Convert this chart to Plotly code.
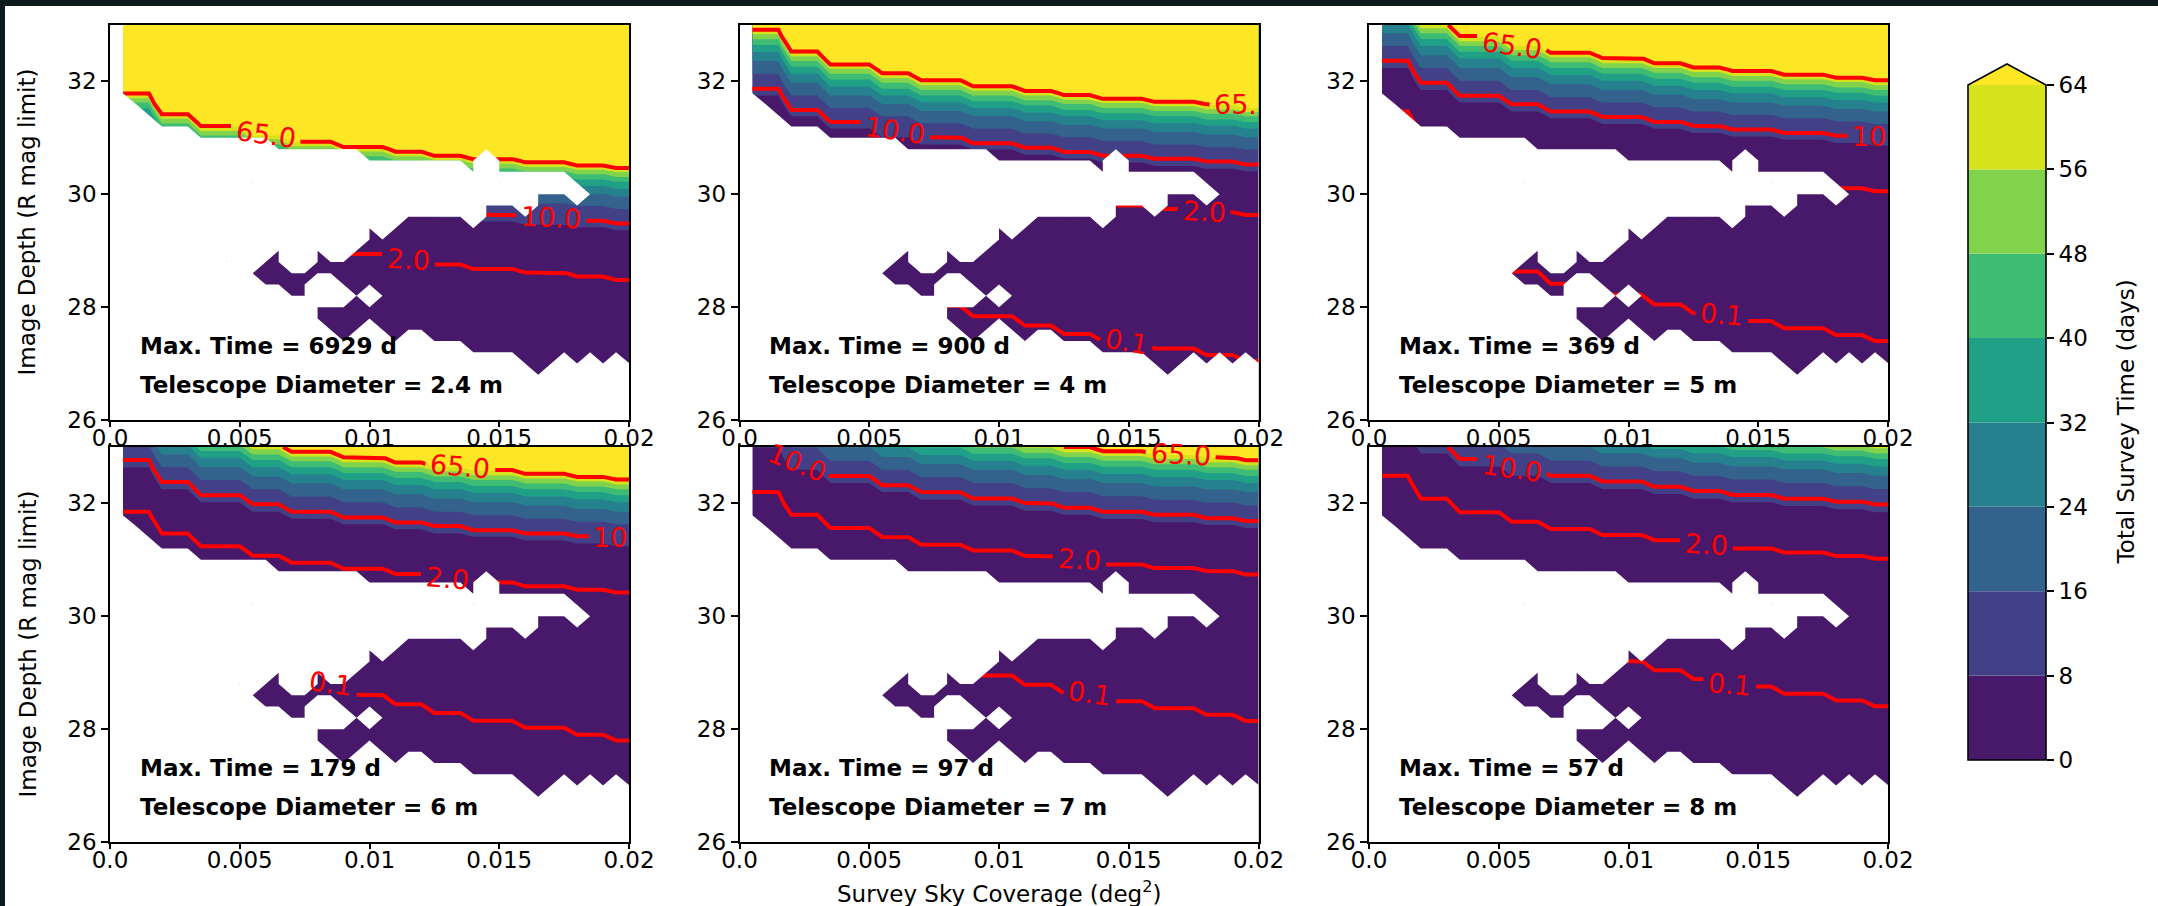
import numpy as np
import plotly.graph_objects as go

# ---------------- data ----------------
coverage_deg2 = [0.0005, 0.0010, 0.0015, 0.0020, 0.0025, 0.0030, 0.0035, 0.0040,
                 0.0045, 0.0050, 0.0055, 0.0060, 0.0065, 0.0070, 0.0075, 0.0080,
                 0.0085, 0.0090, 0.0095, 0.0100, 0.0105, 0.0110, 0.0115, 0.0120,
                 0.0125, 0.0130, 0.0135, 0.0140, 0.0145, 0.0150, 0.0155, 0.0160,
                 0.0165, 0.0170, 0.0175, 0.0180, 0.0185, 0.0190, 0.0195, 0.0200]
# number of telescope pointings needed for each coverage column
pointings = [1, 1, 1, 2, 2, 2, 3, 3, 3, 3, 4, 4, 4, 5, 5, 5, 5, 6, 6, 6,
             6, 7, 7, 7, 8, 8, 8, 9, 9, 9, 9, 10, 10, 10, 10, 11, 11, 11, 12, 12]
depth_mag = [26.0, 26.2, 26.4, 26.6, 26.8, 27.0, 27.2, 27.4, 27.6, 27.8, 28.0, 28.2,
             28.4, 28.6, 28.8, 29.0, 29.2, 29.4, 29.6, 29.8, 30.0, 30.2, 30.4, 30.6,
             30.8, 31.0, 31.2, 31.4, 31.6, 31.8, 32.0, 32.2, 32.4, 32.6, 32.8, 33.0]
# time per pointing (days, 2.4 m reference): background-limited and source-limited parts
bkg_time_days = [0.000741, 0.001095, 0.001620, 0.002396, 0.003544, 0.005243, 0.007754,
                 0.01147, 0.01696, 0.02509, 0.03711, 0.05489, 0.08120, 0.1201, 0.1776,
                 0.2627, 0.3886, 0.5748, 0.8618, 1.299, 1.956, 2.948, 4.442, 6.564,
                 9.636, 14.15, 20.77, 30.50, 44.78, 65.57, 94.08, 135.0, 193.7, 277.9,
                 398.8, 572.2]
src_time_days = [0.01255, 0.01441, 0.01655, 0.01900, 0.02181, 0.02505, 0.02876, 0.03302,
                 0.03791, 0.04353, 0.04998, 0.05739, 0.06589, 0.07566, 0.08687, 0.09974,
                 0.1145, 0.1315, 0.1510, 0.1734, 0.1991, 0.2286, 0.2625, 0.3014, 0.3460,
                 0.3973, 0.4562, 0.5238, 0.6014, 0.6905, 0.7929, 0.9104, 1.045, 1.200,
                 1.378, 1.582]
diameters_m = ["2.4", "4", "5", "6", "7", "8"]
max_time_days = [6929, 900, 369, 179, 97, 57]
bkg_scale = [1.0, 0.1296, 0.0531, 0.0256, 0.01383, 0.0081]
src_scale = [1.0, 0.293, 0.234, 0.177, 0.138, 0.116]

# valid (#) / blank (.) grid points, top row = 33.0 mag, bottom row = 26.0 mag
valid_rows = [
    "#" * 40, "#" * 40, "#" * 40, "#" * 40, "#" * 40, "#" * 40, "#" * 40,
    "." * 1 + "#" * 39,
    "." * 2 + "#" * 38,
    "." * 3 + "#" * 37,
    "." * 6 + "#" * 34,
    "." * 12 + "#" * 28,
    "." * 19 + "#" * 9 + "." + "#" * 11,
    "." * 27 + "#" + "." + "#" * 11,
    "." * 35 + "#" * 5,
    "." * 32 + "#" * 3 + "." + "#" * 4,
    "." * 28 + "#" * 3 + "." + "#" * 8,
    "." * 19 + "#" + ".." + "#" * 5 + "." + "#" * 12,
    "." * 17 + "#" + "." + "#" + "." + "#" * 19,
    "." * 16 + "#" + ".." + "#" * 21,
    "." * 12 + "#" + ".." + "#" + ".." + "#" * 22,
    "." * 11 + "##" + ".." + "#" * 25,
    "." * 10 + "#" * 30,
    "." * 11 + "#" * 4 + ".." + "#" * 23,
    "." * 13 + "##" + "..." + "#" + "." + "#" * 20,
    "." * 15 + "#" * 25,
    "." * 15 + "#" * 25,
    "." * 16 + "###" + "." + "#" * 20,
    "." * 17 + "#" + "..." + "#" + ".." + "#" * 16,
    "." * 21 + "#" + "." * 5 + "#" * 13,
    "." * 31 + "###" + "." + "#" + "." + "#" + "." + "#",
    "." * 32 + "#" + "." * 7,
    "." * 40, "." * 40, "." * 40, "." * 40,
]

line_levels = [0.1, 2.0, 10.0, 65.0]
fill_start, fill_end, fill_step = 0, 64, 8
cbar_ticks = [0, 8, 16, 24, 32, 40, 48, 56, 64]
band_colors = ['#48186a', '#424086', '#33638d', '#26818e', '#20a086',
               '#3fbc73', '#82d34c', '#d5e21c']
over_color = '#fde725'

# contour labels: (panel, level, text, x position, rotation); x=None -> clipped at right edge
contour_labels = [
    (0, 65.0, "65.0", 0.0060, 8), (0, 10.0, "10.0", 0.0170, 3), (0, 2.0, "2.0", 0.0115, 3),
    (1, 65.0, "65.", None, 0), (1, 10.0, "10.0", 0.0060, 8), (1, 2.0, "2.0", 0.0179, 3),
    (1, 0.1, "0.1", 0.0149, 10),
    (2, 65.0, "65.0", 0.0055, 8), (2, 10.0, "10", None, 0), (2, 0.1, "0.1", 0.0136, 5),
    (3, 65.0, "65.0", 0.0135, 5), (3, 10.0, "10", None, 0), (3, 2.0, "2.0", 0.0130, 5),
    (3, 0.1, "0.1", 0.0085, 8),
    (4, 10.0, "10.0", 0.0022, 22), (4, 65.0, "65.0", 0.0170, 3), (4, 2.0, "2.0", 0.0131, 3),
    (4, 0.1, "0.1", 0.0135, 8),
    (5, 10.0, "10.0", 0.0055, 8), (5, 2.0, "2.0", 0.0130, 3), (5, 0.1, "0.1", 0.0139, 5),
]

# ---------------- geometry ----------------
W, H = 2158, 906
col_left = [110, 739.5, 1369]
plot_w = 519
row_top = [25, 447]
plot_h = 395
FONT = "DejaVu Sans"
FS = 23
LABEL_SIZE = 27
DX_PER_PX = 0.02 / plot_w

xs = np.array(coverage_deg2)
ys = np.array(depth_mag)
Npt = np.array(pointings, dtype=float)
Bt = np.array(bkg_time_days)
St = np.array(src_time_days)
valid = np.array([[ch == '#' for ch in row] for row in valid_rows[::-1]])  # bottom -> top

# stepped colour scale matching plotly's contour fill colour lookup
cols = [band_colors[0]] + band_colors + [over_color]
nlev = len(cols) - 1
fill_cs = []
for i, c in enumerate(cols):
    lo = max(0.0, (i - 0.5) / nlev)
    hi = min(1.0, (i + 0.5) / nlev)
    fill_cs.append([lo, c])
    fill_cs.append([hi, c])


def text_width_px(txt, size):
    w = 0.0
    for ch in txt:
        w += 0.318 if ch == '.' else 0.636
    return w * size


def crossing_y(col, level):
    for jj in range(len(col) - 1):
        if col[jj] <= level < col[jj + 1]:
            return ys[jj] + (level - col[jj]) / (col[jj + 1] - col[jj]) * (ys[jj + 1] - ys[jj])
    return None


def contour_path(Z, level):
    """Marching-squares iso-line of a field that increases along both grid axes."""
    pts = []
    for k in range(len(xs)):
        yk = crossing_y(Z[:, k], level)
        if yk is not None:
            pts.append((float(xs[k]), float(yk), 0))
    for r in range(len(ys)):
        row = Z[r, :]
        for k in range(len(xs) - 1):
            if row[k] < level < row[k + 1]:
                xx = xs[k] + (level - row[k]) / (row[k + 1] - row[k]) * (xs[k + 1] - xs[k])
                pts.append((float(xx), float(ys[r]), 0))
    pts.sort(key=lambda t: (t[0], -t[1]))
    return pts


def apply_gaps(pts, gaps):
    if not pts:
        return [], []
    px = [p[0] for p in pts]
    py = [p[1] for p in pts]
    allp = list(pts)
    for (a, b) in gaps:
        if px[0] < a < px[-1]:
            allp.append((a, float(np.interp(a, px, py)), 1))
        if px[0] < b < px[-1]:
            allp.append((b, float(np.interp(b, px, py)), 2))
    allp.sort(key=lambda t: (t[0], -t[1], t[2]))
    ox, oy = [], []
    for (x, y, t) in allp:
        if t == 0 and any(a < x < b for (a, b) in gaps):
            continue
        ox.append(x)
        oy.append(y)
        if t == 1:
            ox.append(None)
            oy.append(None)
    return ox, oy


# white mask polygons (corner masking); vertices on the grid border are pushed
# slightly outward so no anti-aliased seam of the fill remains visible
EPSX = 0.00003
EPSY = 0.01


def vx(i):
    if i == 0:
        return float(xs[0] - EPSX)
    if i == len(xs) - 1:
        return float(xs[-1] + EPSX)
    return float(xs[i])


def vy(j):
    if j == 0:
        return float(ys[0] - EPSY)
    if j == len(ys) - 1:
        return float(ys[-1] + EPSY)
    return float(ys[j])


mx, my = [], []
for jj in range(len(ys) - 1):
    for i in range(len(xs) - 1):
        c = [(i, jj), (i + 1, jj), (i + 1, jj + 1), (i, jj + 1)]
        m = [not valid[b][a] for (a, b) in c]
        cnt = sum(m)
        if cnt == 0:
            continue
        if cnt >= 2:
            poly = c
        else:
            k = m.index(True)
            poly = [c[k], c[(k + 1) % 4], c[(k + 3) % 4]]
        for (a, b) in poly + [poly[0]]:
            mx.append(vx(a))
            my.append(vy(b))
        mx.append(None)
        my.append(None)

fig = go.Figure()
annotations = []
shapes = []
layout = dict(width=W, height=H, margin=dict(l=0, r=0, t=0, b=0, pad=0, autoexpand=False),
              paper_bgcolor='white', plot_bgcolor='white', showlegend=False,
              font=dict(family=FONT, size=FS, color='black'))

for p in range(6):
    r, c = divmod(p, 3)
    sfx = '' if p == 0 else str(p + 1)
    xa, ya = 'x' + sfx, 'y' + sfx
    x0 = col_left[c] / W
    x1 = (col_left[c] + plot_w) / W
    y1 = 1 - row_top[r] / H
    y0 = 1 - (row_top[r] + plot_h) / H
    axis_common = dict(ticks='outside', tickwidth=1.6, tickcolor='black',
                       showline=True, linecolor='black', linewidth=1.6, mirror=True,
                       showgrid=False, zeroline=False, automargin=False,
                       tickfont=dict(family=FONT, size=FS))
    layout['xaxis' + sfx] = dict(domain=[x0, x1], range=[0, 0.02], anchor=ya,
                                 tickvals=[0, 0.005, 0.01, 0.015, 0.02],
                                 ticktext=['0.0', '0.005', '0.01', '0.015', '0.02'],
                                 ticklen=5, ticklabelstandoff=-8, **axis_common)
    layout['yaxis' + sfx] = dict(domain=[y0, y1], range=[26, 33], anchor=xa,
                                 tickvals=[26, 28, 30, 32], ticklen=7, **axis_common)

    per_pointing = Bt * bkg_scale[p] + St * src_scale[p]
    Z = np.outer(per_pointing, Npt)

    fig.add_trace(go.Contour(
        x=coverage_deg2, y=depth_mag, z=Z, xaxis=xa, yaxis=ya,
        autocontour=False,
        contours=dict(start=fill_start, end=fill_end, size=fill_step,
                      coloring='fill', showlines=False),
        colorscale=fill_cs, showscale=False,
        line=dict(width=0, smoothing=0), hoverinfo='skip'))

    for L in line_levels:
        pts = contour_path(Z, L)
        if not pts:
            continue
        px = [q[0] for q in pts]
        py = [q[1] for q in pts]
        gaps = []
        for (pp, lev, txt, lx, ang) in contour_labels:
            if pp != p or lev != L:
                continue
            tw = text_width_px(txt, LABEL_SIZE)
            if lx is None:
                w = (tw + 6) * DX_PER_PX
                gaps.append((0.02 - w, 1.0))
                yy = float(np.interp(0.02 - w / 2, px, py))
                annotations.append(dict(x=0.02, y=yy, xref=xa, yref=ya, text=txt,
                                        xanchor='right', yanchor='middle', showarrow=False,
                                        font=dict(family=FONT, size=LABEL_SIZE,
                                                  color='#ff0000')))
            else:
                hw = (tw / 2 + 5) * DX_PER_PX * np.cos(np.radians(ang))
                gaps.append((lx - hw, lx + hw))
                yy = float(np.interp(lx, px, py))
                annotations.append(dict(x=lx, y=yy, xref=xa, yref=ya, text=txt,
                                        xanchor='center', yanchor='middle', showarrow=False,
                                        textangle=ang,
                                        font=dict(family=FONT, size=LABEL_SIZE,
                                                  color='#ff0000')))
        lxs, lys = apply_gaps(pts, gaps)
        fig.add_trace(go.Scatter(x=lxs, y=lys, xaxis=xa, yaxis=ya, mode='lines',
                                 line=dict(color='#ff0000', width=4),
                                 hoverinfo='skip', cliponaxis=True))

    fig.add_trace(go.Scatter(
        x=mx, y=my, xaxis=xa, yaxis=ya, mode='lines', fill='toself',
        fillcolor='white', line=dict(width=0, color='white'), hoverinfo='skip'))

    annotations.append(dict(x=0.00106, y=27.31, xref=xa, yref=ya,
                            text='<b>Max. Time = %d d</b>' % max_time_days[p],
                            xanchor='left', yanchor='middle', showarrow=False,
                            font=dict(family=FONT, size=FS, color='black')))
    annotations.append(dict(x=0.00106, y=26.62, xref=xa, yref=ya,
                            text='<b>Telescope Diameter = %s m</b>' % diameters_m[p],
                            xanchor='left', yanchor='middle', showarrow=False,
                            font=dict(family=FONT, size=FS, color='black')))

# axis titles
for r in range(2):
    yc = 1 - (row_top[r] + plot_h / 2) / H
    annotations.append(dict(x=27 / W, y=yc, xref='paper', yref='paper',
                            text='Image Depth (R mag limit)', textangle=-90,
                            xanchor='center', yanchor='middle', showarrow=False,
                            font=dict(family=FONT, size=FS, color='black')))
annotations.append(dict(x=(col_left[1] + plot_w / 2) / W, y=1 - 892 / H,
                        xref='paper', yref='paper',
                        text='Survey Sky Coverage (deg<sup>2</sup>)',
                        xanchor='center', yanchor='middle', showarrow=False,
                        font=dict(family=FONT, size=FS, color='black')))

# ---------------- colour bar ----------------
cb_l, cb_r = 1968, 2046
cb_top, cb_bot, cb_tip = 85, 760, 64
cbx0, cbx1 = cb_l / W, cb_r / W
cby0, cby1 = 1 - cb_bot / H, 1 - cb_top / H
cbtip = 1 - cb_tip / H
layout['xaxis7'] = dict(domain=[cbx0, cbx1], range=[0, 1], anchor='y7', visible=False,
                        fixedrange=True, automargin=False)
layout['yaxis7'] = dict(domain=[cby0, cby1], range=[fill_start, fill_end], anchor='x7',
                        side='right', tickvals=cbar_ticks, ticks='outside', ticklen=7,
                        tickwidth=1.6, tickcolor='black', showline=False, showgrid=False,
                        zeroline=False, fixedrange=True, automargin=False,
                        tickfont=dict(family=FONT, size=FS, color='black'))
fig.add_trace(go.Scatter(x=[0.5], y=[32], xaxis='x7', yaxis='y7', mode='markers',
                         marker=dict(opacity=0), hoverinfo='skip'))
for i, col in enumerate(band_colors):
    shapes.append(dict(type='rect', xref='x7', yref='y7', x0=0, x1=1,
                       y0=cbar_ticks[i], y1=cbar_ticks[i + 1], fillcolor=col,
                       line=dict(width=0), layer='above'))
xm = (cbx0 + cbx1) / 2
shapes.append(dict(type='path', xref='paper', yref='paper',
                   path='M %f,%f L %f,%f L %f,%f Z' % (cbx0, cby1, xm, cbtip, cbx1, cby1),
                   fillcolor=over_color, line=dict(width=0), layer='above'))
shapes.append(dict(type='path', xref='paper', yref='paper',
                   path='M %f,%f L %f,%f L %f,%f L %f,%f L %f,%f Z' % (
                       cbx0, cby0, cbx0, cby1, xm, cbtip, cbx1, cby1, cbx1, cby0),
                   line=dict(width=1.6, color='black'), layer='above'))
annotations.append(dict(x=2125 / W, y=(cby0 + cby1) / 2, xref='paper', yref='paper',
                        text='Total Survey Time (days)', textangle=-90,
                        xanchor='center', yanchor='middle', showarrow=False,
                        font=dict(family=FONT, size=FS, color='black')))

# dark screenshot frame at top and left edges
shapes.append(dict(type='rect', xref='paper', yref='paper', x0=0, x1=1,
                   y0=1 - 6 / H, y1=1, fillcolor='#0d1a1c', line=dict(width=0),
                   layer='above'))
shapes.append(dict(type='rect', xref='paper', yref='paper', x0=0, x1=5 / W,
                   y0=0, y1=1, fillcolor='#0d1a1c', line=dict(width=0), layer='above'))

layout['annotations'] = annotations
layout['shapes'] = shapes
fig.update_layout(**layout)
fig.write_html("out.html", config={'displayModeBar': False},
               post_script="document.body.style.margin='0px';")
